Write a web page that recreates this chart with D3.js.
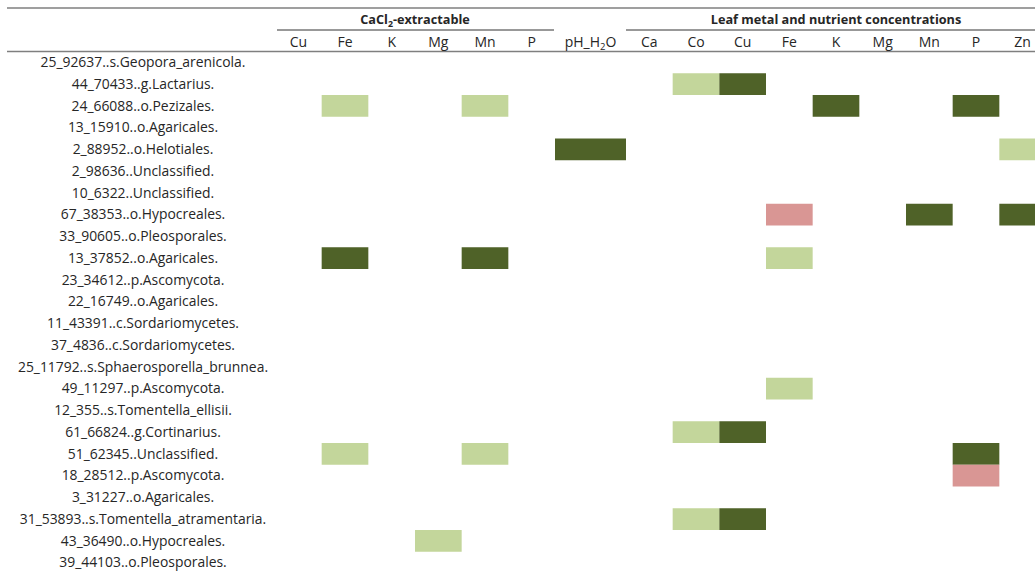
<!DOCTYPE html>
<html><head><meta charset="utf-8">
<script src="https://cdn.jsdelivr.net/npm/d3@7"></script>
<style>body{margin:0;background:#fff}svg{display:block}</style>
</head><body>
<script>
const rows = ["25_92637..s.Geopora_arenicola.","44_70433..g.Lactarius.","24_66088..o.Pezizales.","13_15910..o.Agaricales.","2_88952..o.Helotiales.","2_98636..Unclassified.","10_6322..Unclassified.","67_38353..o.Hypocreales.","33_90605..o.Pleosporales.","13_37852..o.Agaricales.","23_34612..p.Ascomycota.","22_16749..o.Agaricales.","11_43391..c.Sordariomycetes.","37_4836..c.Sordariomycetes.","25_11792..s.Sphaerosporella_brunnea.","49_11297..p.Ascomycota.","12_355..s.Tomentella_ellisii.","61_66824..g.Cortinarius.","51_62345..Unclassified.","18_28512..p.Ascomycota.","3_31227..o.Agaricales.","31_53893..s.Tomentella_atramentaria.","43_36490..o.Hypocreales.","39_44103..o.Pleosporales."];
const cacl2Cols = ["Cu","Fe","K","Mg","Mn","P"];
const phCols = ["pH_H2O"];
const leafCols = ["Ca","Co","Cu","Fe","K","Mg","Mn","P","Zn"];
// cells: [row index, group, column, level]  level: 2 strong positive, 1 weak positive, -1 negative
const cellRow   = [1,1,2,2,2,2,4,4,7,7,7,9,9,9,15,17,17,18,18,18,19,21,21,22];
const cellGroup = ["leaf","leaf","cacl2","cacl2","leaf","leaf","ph","leaf","leaf","leaf","leaf","cacl2","cacl2","leaf","leaf","leaf","leaf","cacl2","cacl2","leaf","leaf","leaf","leaf","cacl2"];
const cellCol   = ["Co","Cu","Fe","Mn","K","P","pH_H2O","Zn","Fe","Mn","Zn","Fe","Mn","Fe","Fe","Co","Cu","Fe","Mn","P","P","Co","Cu","Mg"];
const cellLevel = [1,2,1,1,2,2,2,1,-1,2,2,2,2,1,1,1,2,1,1,2,-1,1,2,1];
const levels = [2,1,-1];
const levelColors = ["#4F6228","#C3D69B","#D99694"];

const W = 1035, H = 572;
const svg = d3.select("body").append("svg").attr("width", W).attr("height", H);
const font = "'Open Sans', sans-serif";

const y = d3.scaleBand().domain(d3.range(rows.length)).range([51.5, 573.5]).padding(0);
const xs = {
  cacl2: d3.scaleBand().domain(cacl2Cols).range([275, 555]),
  ph: d3.scaleBand().domain(phCols).range([555, 626]),
  leaf: d3.scaleBand().domain(leafCols).range([626, 1046])
};
const color = d3.scaleOrdinal().domain(levels).range(levelColors);

const cells = cellRow.map((r,i)=>({r, g: cellGroup[i], c: cellCol[i], v: cellLevel[i]}));
svg.append("g").selectAll("rect").data(cells).join("rect")
  .attr("x", d => xs[d.g](d.c))
  .attr("y", d => y(d.r))
  .attr("width", d => xs[d.g].bandwidth())
  .attr("height", y.bandwidth())
  .attr("fill", d => color(d.v));

// row labels
svg.append("g").selectAll("text").data(rows).join("text")
  .attr("x", 143)
  .attr("y", (d,i) => y(i) + y.bandwidth()/2)
  .attr("dy", "0.35em")
  .attr("text-anchor", "middle")
  .attr("font-family", font).attr("font-size", 13.9).attr("fill", "#262626")
  .text(d => d);

// header lines
const lineColor = "#7f7f7f";
svg.append("line").attr("x1", 7).attr("x2", W).attr("y1", 8).attr("y2", 8).attr("stroke", lineColor).attr("stroke-width", 1.5);
svg.append("line").attr("x1", 7).attr("x2", W).attr("y1", 51.5).attr("y2", 51.5).attr("stroke", lineColor).attr("stroke-width", 1.5);
svg.append("line").attr("x1", 277).attr("x2", 554).attr("y1", 30).attr("y2", 30).attr("stroke", "#333").attr("stroke-width", 1);
svg.append("line").attr("x1", 626).attr("x2", W).attr("y1", 30).attr("y2", 30).attr("stroke", "#333").attr("stroke-width", 1);

// group titles
const t1 = svg.append("text").attr("x", 415).attr("y", 24).attr("text-anchor","middle")
  .attr("font-family", font).attr("font-size", 12.7).attr("font-weight","bold").attr("fill","#262626");
t1.append("tspan").text("CaCl");
t1.append("tspan").attr("font-size", 8.8).attr("dy", 3).text("2");
t1.append("tspan").attr("dy", -3).text("-extractable");
svg.append("text").attr("x", 836).attr("y", 24).attr("text-anchor","middle")
  .attr("font-family", font).attr("font-size", 12.7).attr("font-weight","bold").attr("fill","#262626")
  .text("Leaf metal and nutrient concentrations");

// column labels
function colLabels(g){
  const sc = xs[g];
  svg.append("g").selectAll("text").data(sc.domain()).join("text")
    .attr("x", d => sc(d) + sc.bandwidth()/2)
    .attr("y", 46.5).attr("text-anchor","middle")
    .attr("font-family", font).attr("font-size", 14).attr("fill","#262626")
    .each(function(d){
      const t = d3.select(this);
      if (d === "pH_H2O") {
        t.append("tspan").text("pH_H");
        t.append("tspan").attr("font-size", 9.5).attr("dy", 3).text("2");
        t.append("tspan").attr("dy", -3).text("O");
      } else t.text(d);
    });
}
colLabels("cacl2"); colLabels("ph"); colLabels("leaf");
</script>
</body></html>
